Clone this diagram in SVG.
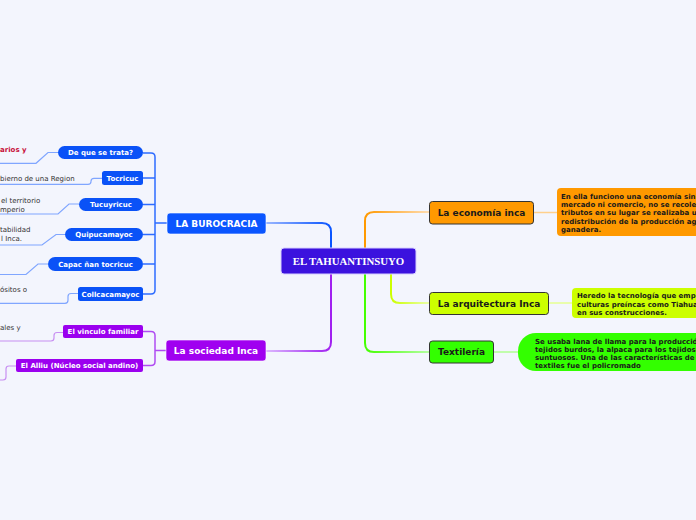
<svg xmlns="http://www.w3.org/2000/svg" width="696" height="520" viewBox="0 0 696 520">
<defs>
<style>
.t{font-family:"DejaVu Sans","Liberation Sans",sans-serif;}
.nb{font-weight:bold;font-size:7px;fill:#ffffff;text-anchor:middle;}
.mb{font-weight:bold;font-size:9px;fill:#ffffff;text-anchor:middle;}
.rb{font-weight:bold;font-size:9px;fill:#1a1a1a;text-anchor:middle;}
.bx{font-weight:bold;font-size:7px;fill:#1a1a1a;}
.lf{font-size:7px;fill:#333333;}
.blue{fill:#0a52f7;}
.purp{fill:#9b00ef;}
.rn{stroke:#333333;stroke-width:1;}
.lb{fill:none;stroke:#80a6ff;stroke-width:1.2;}
.lp{fill:none;stroke:#c890f2;stroke-width:1.2;}
.br{fill:none;stroke:#2e6cff;stroke-width:1.5;}
.bp{fill:none;stroke:#b04cf2;stroke-width:1.5;}
</style>
<linearGradient id="gB" gradientUnits="userSpaceOnUse" x1="266" y1="0" x2="331" y2="0"><stop offset="0" stop-color="#9ab6ff"/><stop offset="1" stop-color="#0a55ff"/></linearGradient>
<linearGradient id="gP" gradientUnits="userSpaceOnUse" x1="266" y1="0" x2="331" y2="0"><stop offset="0" stop-color="#dcb8ff"/><stop offset="1" stop-color="#a020f0"/></linearGradient>
<linearGradient id="gO" gradientUnits="userSpaceOnUse" x1="365" y1="0" x2="429" y2="0"><stop offset="0" stop-color="#ff9900"/><stop offset="1" stop-color="#ffdcb0"/></linearGradient>
<linearGradient id="gY" gradientUnits="userSpaceOnUse" x1="391" y1="0" x2="429" y2="0"><stop offset="0" stop-color="#ccff00"/><stop offset="1" stop-color="#eaffa8"/></linearGradient>
<linearGradient id="gG" gradientUnits="userSpaceOnUse" x1="365" y1="0" x2="429" y2="0"><stop offset="0" stop-color="#44ff00"/><stop offset="1" stop-color="#b4ffa0"/></linearGradient>
</defs>
<rect x="0" y="0" width="696" height="520" fill="#f3f5fd"/>

<g id="connectors">
<path d="M266,223 H322 Q331,223 331,232 V248" fill="none" stroke="url(#gB)" stroke-width="2"/>
<path d="M331,274 V342 Q331,351 322,351 H266" fill="none" stroke="url(#gP)" stroke-width="2"/>
<path d="M365,248 V221 Q365,212 374,212 H429" fill="none" stroke="url(#gO)" stroke-width="2"/>
<path d="M391,274 V294 Q391,303 400,303 H429" fill="none" stroke="url(#gY)" stroke-width="2"/>
<path d="M365,274 V343 Q365,352 374,352 H429" fill="none" stroke="url(#gG)" stroke-width="2"/>
<path d="M534,212.5 H557" fill="none" stroke="#ffd08c" stroke-width="1.5"/>
<path d="M548,303 H572" fill="none" stroke="#e6ff90" stroke-width="1.5"/>
<path d="M493,352 H518" fill="none" stroke="#b0ff90" stroke-width="1.5"/>
<path class="br" d="M143,153 H151 Q155,153 155,157 V290 Q155,294 151,294 H143"/>
<path class="br" d="M143,178 H155 M143,204.5 H155 M143,234.5 H155 M143,264 H155 M155,223 H167"/>
<path class="bp" d="M143,331.5 H151 Q155,331.5 155,335.5 V361.5 Q155,365.5 151,365.5 H143 M155,350.5 H166"/>
<path class="lb" d="M58,152.5 H48 L36,163.3 H0"/>
<path class="lb" d="M102,178.3 H94 Q91,178.3 91,181.3 V181.5 Q91,184.3 88,184.3 H0"/>
<path class="lb" d="M79,204 H69 L58,214 H0"/>
<path class="lb" d="M65,234.5 H56 L42,245 H0"/>
<path class="lb" d="M48,264 H38 L26,274.5 H0"/>
<path class="lb" d="M78,293.5 H71 Q68,293.5 68,296.5 V300.3 Q68,303.3 65,303.3 H0"/>
<path class="lp" d="M63,332.5 H57 Q54,332.5 54,335.5 V338 Q54,341 51,341 H0"/>
<path class="lp" d="M16,366 H9 Q6,366 6,369 V377 Q6,380 3,380 H0"/>
</g>

<g id="center">
<rect x="281" y="248" width="135" height="26" rx="3" fill="#3b12de" stroke="#d6ceff" stroke-width="1"/>
<text x="348.5" y="265" font-family="'Liberation Serif','Times New Roman',serif" font-weight="bold" font-size="10.8" fill="#ffffff" text-anchor="middle">EL TAHUANTINSUYO</text>
</g>

<g id="burocracia">
<rect x="167" y="213" width="99" height="21" rx="3" fill="#0a55ff" stroke="#ffffff" stroke-opacity="0.6"/>
<text class="t mb" x="216.5" y="226.7">LA BUROCRACIA</text>
</g>
<g id="sociedad">
<rect x="166" y="340" width="100" height="21" rx="3" fill="#a000f0" stroke="#ffffff" stroke-opacity="0.6"/>
<text class="t mb" x="216" y="353.7">La sociedad Inca</text>
</g>

<g id="dequesetrata">
<rect class="blue" x="58" y="146" width="85" height="13" rx="6.5"/>
<text class="t nb" x="100.5" y="155">De que se trata?</text>
<text class="t" x="0" y="151.5" font-size="7" font-weight="bold" fill="#c8103a">arios y</text>
</g>
<g id="tocricuc">
<rect class="blue" x="102" y="171" width="41" height="14" rx="2.5"/>
<text class="t nb" x="122.5" y="180.5">Tocricuc</text>
<text class="t lf" x="0" y="180.8">bierno de una Region</text>
</g>
<g id="tucuyricuc">
<rect class="blue" x="79" y="198" width="64" height="13" rx="6.5"/>
<text class="t nb" x="111" y="207">Tucuyricuc</text>
<text class="t lf" x="1" y="202.5">el territorio</text>
<text class="t lf" x="0" y="211.5">mperio</text>
</g>
<g id="quipucamayoc">
<rect class="blue" x="65" y="228" width="78" height="13" rx="6.5"/>
<text class="t nb" x="104" y="237">Quipucamayoc</text>
<text class="t lf" x="0" y="231.8">tabilidad</text>
<text class="t lf" x="1" y="241.2">l Inca.</text>
</g>
<g id="capac">
<rect class="blue" x="48" y="257" width="95" height="14" rx="7"/>
<text class="t nb" x="95.5" y="266.5">Capac ñan tocricuc</text>
</g>
<g id="collcacamayoc">
<rect class="blue" x="78" y="287" width="65" height="14" rx="2.5"/>
<text class="t nb" x="110.5" y="296.5">Collcacamayoc</text>
<text class="t lf" x="0" y="291.8">ósitos o</text>
</g>

<g id="vinculo">
<rect class="purp" x="63" y="325" width="80" height="13" rx="2"/>
<text class="t nb" x="103" y="334">El vinculo familiar</text>
<text class="t lf" x="0" y="330.2">ales y</text>
</g>
<g id="alliu">
<rect class="purp" x="16" y="359" width="127" height="13" rx="2"/>
<text class="t nb" x="79.5" y="368">El Alliu (Núcleo social andino)</text>
</g>

<g id="economia">
<rect class="rn" x="429.5" y="201.5" width="104" height="22.5" rx="3" fill="#ff9900"/>
<text class="t rb" x="481.5" y="215.8">La economía inca</text>
</g>
<g id="economia-texto">
<rect x="557" y="188" width="150" height="48" rx="4" fill="#ff9900"/>
<text class="t bx" x="561" y="198.5">En ella funciono una economía sin</text>
<text class="t bx" x="561" y="206.8">mercado ni comercio, no se recole</text>
<text class="t bx" x="561" y="215.2">tributos en su lugar se realizaba u</text>
<text class="t bx" x="561" y="223.5">redistribución de la producción ag</text>
<text class="t bx" x="561" y="231.8">ganadera.</text>
</g>

<g id="arquitectura">
<rect class="rn" x="429.5" y="292.5" width="119" height="22" rx="3" fill="#ccff00"/>
<text class="t rb" x="489" y="306.5">La arquitectura Inca</text>
</g>
<g id="arquitectura-texto">
<rect x="572" y="288" width="140" height="30" rx="4" fill="#ccff00"/>
<text class="t bx" x="577" y="298.2">Heredo la tecnología que empl</text>
<text class="t bx" x="577" y="306.8">culturas preíncas como Tiahua</text>
<text class="t bx" x="577" y="315.2">en sus construcciones.</text>
</g>

<g id="textileria">
<rect class="rn" x="429.5" y="341" width="64" height="22" rx="3" fill="#33ff00"/>
<text class="t rb" x="461.5" y="355">Textilería</text>
</g>
<g id="textileria-texto">
<rect x="518" y="333" width="200" height="38" rx="18" fill="#33ff00"/>
<text class="t bx" x="535" y="343.5">Se usaba lana de llama para la producción d</text>
<text class="t bx" x="535" y="351.7">tejidos burdos, la alpaca para los tejidos</text>
<text class="t bx" x="535" y="360">suntuosos. Una de las características de los</text>
<text class="t bx" x="535" y="368">textiles fue el policromado</text>
</g>
</svg>
